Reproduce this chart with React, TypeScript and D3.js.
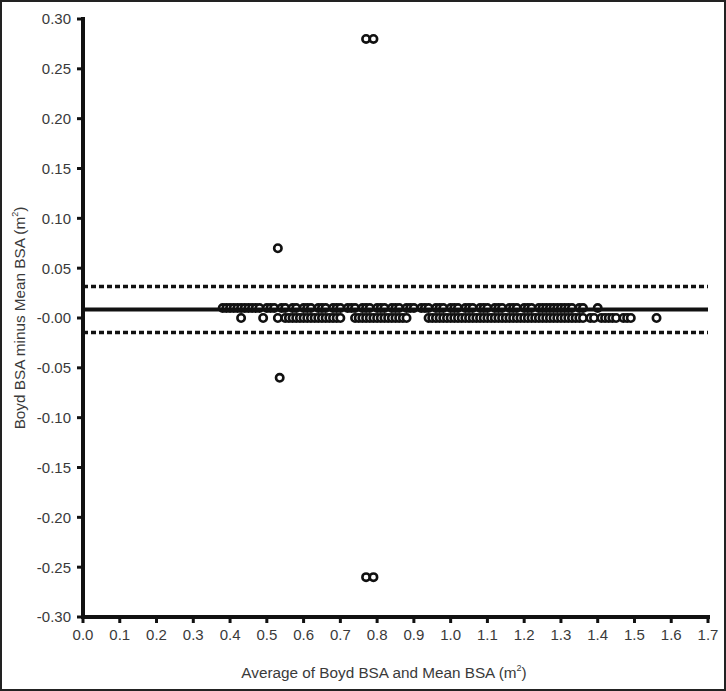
import React from 'react';
import * as d3 from 'd3';

const W = 726;
const H = 691;

const xTicks = [0, 0.1, 0.2, 0.3, 0.4, 0.5, 0.6, 0.7, 0.8, 0.9, 1.0, 1.1, 1.2, 1.3, 1.4, 1.5, 1.6, 1.7];
const yTicks = [0.3, 0.25, 0.2, 0.15, 0.1, 0.05, 0, -0.05, -0.1, -0.15, -0.2, -0.25, -0.3];
const yTickLabels = ['0.30', '0.25', '0.20', '0.15', '0.10', '0.05', '-0.00', '-0.05', '-0.10', '-0.15', '-0.20', '-0.25', '-0.30'];

// averages where difference = 0.01
const rowHigh = [
  0.38, 0.39, 0.4, 0.41, 0.42, 0.43, 0.44, 0.45, 0.46, 0.47, 0.48, 0.5, 0.51, 0.52, 0.54, 0.55, 0.57,
  0.58, 0.6, 0.61, 0.62, 0.64, 0.65, 0.66, 0.68, 0.69, 0.7, 0.72, 0.73, 0.74, 0.76, 0.77, 0.78, 0.8,
  0.81, 0.82, 0.84, 0.85, 0.86, 0.88, 0.89, 0.9, 0.92, 0.93, 0.94, 0.96, 0.97, 0.98, 1.0, 1.01, 1.02,
  1.04, 1.05, 1.06, 1.08, 1.09, 1.1, 1.12, 1.13, 1.14, 1.16, 1.17, 1.18, 1.2, 1.21, 1.22, 1.24, 1.25,
  1.26, 1.27, 1.28, 1.29, 1.3, 1.31, 1.32, 1.33, 1.35, 1.36, 1.4,
];
// averages where difference = 0.00
const rowZero = [
  0.43, 0.49, 0.53, 0.55, 0.56, 0.57, 0.58, 0.59, 0.6, 0.61, 0.62, 0.63, 0.64, 0.65, 0.66, 0.67, 0.68,
  0.69, 0.7, 0.74, 0.75, 0.76, 0.77, 0.78, 0.79, 0.8, 0.81, 0.82, 0.83, 0.84, 0.85, 0.86, 0.87, 0.88,
  0.94, 0.95, 0.96, 0.97, 0.98, 0.99, 1.0, 1.01, 1.02, 1.03, 1.04, 1.05, 1.06, 1.07, 1.08, 1.09, 1.1,
  1.11, 1.12, 1.13, 1.14, 1.15, 1.16, 1.17, 1.18, 1.19, 1.2, 1.21, 1.22, 1.23, 1.24, 1.25, 1.26, 1.27,
  1.28, 1.29, 1.3, 1.31, 1.32, 1.33, 1.34, 1.35, 1.36, 1.38, 1.39, 1.41, 1.42, 1.43, 1.44, 1.45, 1.47,
  1.48, 1.49, 1.56,
];
// isolated points [average, difference]
const outliers: [number, number][] = [
  [0.77, 0.28], [0.79, 0.28], [0.53, 0.07], [0.535, -0.06], [0.77, -0.26], [0.79, -0.26],
];

const meanDiff = 0.0085;
const upperLimit = 0.0315;
const lowerLimit = -0.0145;

const textColor = '#3a3a3a';
const font = '"Liberation Sans", Arial, sans-serif';

export default function App() {
  const x = d3.scaleLinear().domain([0, 1.7]).range([83, 708]);
  const y = d3.scaleLinear().domain([-0.3, 0.3]).range([617, 19]);

  const points: [number, number][] = [
    ...rowZero.map((v) => [v, 0] as [number, number]),
    ...rowHigh.map((v) => [v, 0.01] as [number, number]),
    ...outliers,
  ];

  return (
    <svg width={W} height={H} style={{ position: 'absolute', left: 0, top: 0, background: '#fff' }}>
      <rect x={1} y={1} width={W - 2} height={H - 2} fill="#fff" stroke="#222" strokeWidth={2} />

      {/* points */}
      {points.map((p, i) => (
        <circle key={i} cx={x(p[0])} cy={y(p[1])} r={3.7} fill="#fff" stroke="#111" strokeWidth={2.6} />
      ))}

      {/* bias and limits */}
      <line x1={x(0)} x2={x(1.7)} y1={y(meanDiff)} y2={y(meanDiff)} stroke="#111" strokeWidth={4} />
      {[upperLimit, lowerLimit].map((v) => (
        <line key={v} x1={x(0)} x2={x(1.7)} y1={y(v)} y2={y(v)} stroke="#111" strokeWidth={3.5} strokeDasharray="5,3" />
      ))}

      {/* y axis */}
      <line x1={x(0)} x2={x(0)} y1={y(0.3) - 2} y2={y(-0.3) + 2} stroke="#111" strokeWidth={4} />
      {yTicks.map((t, i) => (
        <g key={t}>
          <line x1={x(0) - 6} x2={x(0)} y1={y(t)} y2={y(t)} stroke="#111" strokeWidth={3} />
          <text x={71} y={y(t)} dy="0.36em" textAnchor="end" fontSize={15} fill={textColor} fontFamily={font}>
            {yTickLabels[i]}
          </text>
        </g>
      ))}

      {/* x axis */}
      <line x1={x(0) - 2} x2={x(1.7) + 2} y1={y(-0.3)} y2={y(-0.3)} stroke="#111" strokeWidth={4} />
      {xTicks.map((t) => (
        <g key={t}>
          <line x1={x(t)} x2={x(t)} y1={y(-0.3)} y2={y(-0.3) + 6} stroke="#111" strokeWidth={3} />
          <text x={x(t)} y={640} textAnchor="middle" fontSize={15} fill={textColor} fontFamily={font}>
            {t.toFixed(1)}
          </text>
        </g>
      ))}

      <text x={384} y={678} textAnchor="middle" fontSize={15.3} fill={textColor} fontFamily={font}>
        Average of Boyd BSA and Mean BSA (m<tspan fontSize={9} dy={-7}>2</tspan>
        <tspan dy={7}>)</tspan>
      </text>
      <text
        transform={`translate(25,318) rotate(-90)`}
        textAnchor="middle"
        fontSize={15.3}
        fill={textColor}
        fontFamily={font}
      >
        Boyd BSA minus Mean BSA (m<tspan fontSize={9} dy={-7}>2</tspan>
        <tspan dy={7}>)</tspan>
      </text>
    </svg>
  );
}
